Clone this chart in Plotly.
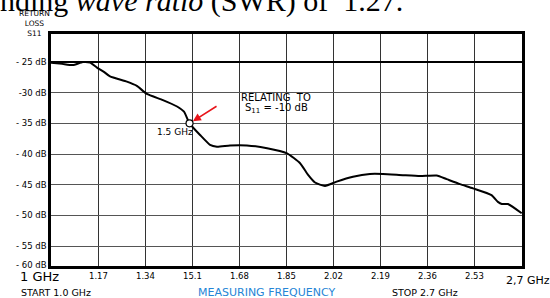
import plotly.graph_objects as go

# ---- data ----
freq_ghz = [1.0, 1.04, 1.079, 1.115, 1.141, 1.166, 1.191, 1.213, 1.274, 1.310,
            1.346, 1.404, 1.455, 1.480, 1.5, 1.538, 1.574, 1.599, 1.646, 1.707,
            1.780, 1.852, 1.899, 1.928, 1.953, 1.989, 2.031, 2.090, 2.151, 2.198,
            2.270, 2.332, 2.392, 2.428, 2.476, 2.523, 2.590, 2.613, 2.627, 2.649, 2.699]
s11_db = [-25.1, -25.3, -25.5, -25.0, -25.1, -25.9, -26.6, -27.35, -28.2, -28.9,
          -30.2, -31.2, -32.25, -33.1, -35.0, -36.9, -38.5, -38.8, -38.6, -38.6,
          -39.05, -39.9, -41.5, -43.4, -44.65, -45.2, -44.5, -43.7, -43.25, -43.25,
          -43.45, -43.6, -43.5, -44.1, -44.9, -45.6, -46.7, -47.8, -48.15, -48.15, -49.65]

marker_freq = [1.5]
marker_db = [-35.0]

x_tick_vals = [1.0, 1.17, 1.34, 1.51, 1.68, 1.85, 2.02, 2.19, 2.36, 2.53, 2.7]
x_tick_text = ["1 GHz", "1.17", "1.34", "15.1", "1.68", "1.85", "2.02", "2.19", "2.36", "2.53", "2,7 GHz"]

y_tick_vals = [-25, -30, -35, -40, -45, -50, -55]
y_tick_text = ["- 25 dB", "-30 dB", "- 35 dB", "- 40 dB", "- 45 dB", "- 50 dB", "- 55 dB"]
y_bottom_label = "- 60 dB"

# ---- layout geometry ----
W, H = 550, 298
L, R, T, B = 51, 28, 34, 32
PW, PH = W - L - R, H - T - B


def px(x):
    return (x - L) / PW


def py(y):
    return (H - B - y) / PH


FONT = "DejaVu Sans"

fig = go.Figure()
fig.add_trace(go.Scatter(x=freq_ghz, y=s11_db, mode="lines",
                         line=dict(color="black", width=2, shape="spline", smoothing=0.5),
                         hoverinfo="skip", showlegend=False))
fig.add_trace(go.Scatter(x=marker_freq, y=marker_db, mode="markers",
                         marker=dict(size=7, color="white", line=dict(color="black", width=1.2)),
                         showlegend=False))

shapes = [dict(type="line", xref="x domain", x0=0, x1=1, yref="y", y0=-25, y1=-25,
               line=dict(color="black", width=2), layer="above")]

ann = []
# x tick labels
for v, t in zip(x_tick_vals, x_tick_text):
    if t == x_tick_text[0]:
        ann.append(dict(x=v, xref="x", y=py(276), yref="paper", text=t, showarrow=False,
                        xanchor="center", yanchor="middle", xshift=-12,
                        font=dict(family=FONT, size=13, color="black")))
    elif t == x_tick_text[-1]:
        ann.append(dict(x=v, xref="x", y=py(280), yref="paper", text=t, showarrow=False,
                        xanchor="left", yanchor="middle", xshift=-18,
                        font=dict(family=FONT, size=11, color="black")))
    else:
        ann.append(dict(x=v, xref="x", y=py(276), yref="paper", text=t, showarrow=False,
                        xanchor="center", yanchor="middle",
                        font=dict(family=FONT, size=8.5, color="black")))

ann.append(dict(x=px(49), y=py(265), xref="paper", yref="paper", text=y_bottom_label,
                showarrow=False, xanchor="right", yanchor="middle",
                font=dict(family=FONT, size=8.5, color="black")))

# axis title
ann.append(dict(x=px(34), y=py(24), xref="paper", yref="paper", text="RETURN<br>LOSS<br>S11",
                showarrow=False, xanchor="center", yanchor="middle", align="center",
                font=dict(family=FONT, size=7.5, color="black")))

ann.append(dict(x=px(56), y=py(292), xref="paper", yref="paper", text="START 1.0 GHz",
                showarrow=False, xanchor="center", yanchor="middle",
                font=dict(family=FONT, size=9.5, color="black")))
ann.append(dict(x=px(266), y=py(292), xref="paper", yref="paper", text="MEASURING FREQUENCY",
                showarrow=False, xanchor="center", yanchor="middle",
                font=dict(family=FONT, size=11, color="#2585d6")))
ann.append(dict(x=px(425), y=py(292), xref="paper", yref="paper", text="STOP 2.7 GHz",
                showarrow=False, xanchor="center", yanchor="middle",
                font=dict(family=FONT, size=9.5, color="black")))

# note text
ann.append(dict(x=px(276), y=py(97), xref="paper", yref="paper", text="RELATING  TO",
                showarrow=False, xanchor="center", yanchor="middle",
                font=dict(family=FONT, size=10, color="black")))
ann.append(dict(x=px(276), y=py(108), xref="paper", yref="paper", text="S<sub>11</sub> = -10 dB",
                showarrow=False, xanchor="center", yanchor="middle",
                font=dict(family=FONT, size=10, color="black")))
ann.append(dict(x=px(175), y=py(132), xref="paper", yref="paper", text="1.5 GHz",
                showarrow=False, xanchor="center", yanchor="middle",
                font=dict(family=FONT, size=9, color="black")))
# red arrow pointing at the marker
ann.append(dict(x=marker_freq[0], y=marker_db[0], xref="x", yref="y", text=" ",
                showarrow=True, ax=30, ay=-19, arrowcolor="#e8141a", arrowwidth=1.6,
                arrowhead=2, arrowsize=1, standoff=4))

# cut-off body text at the top of the picture
ann.append(dict(x=px(-2), y=py(1), xref="paper", yref="paper",
                text="nding <i>wave ratio</i> (SWR) of  1.27.",
                showarrow=False, xanchor="left", yanchor="middle",
                font=dict(family="Liberation Serif", size=30, color="black")))

fig.update_layout(
    width=W, height=H,
    margin=dict(l=L, r=R, t=T, b=B),
    paper_bgcolor="white", plot_bgcolor="white",
    showlegend=False,
    annotations=ann,
    shapes=shapes,
    xaxis=dict(range=[1.0, 2.7], tickvals=x_tick_vals, showticklabels=False,
               showgrid=True, gridcolor="#333333", gridwidth=1.3,
               showline=True, linecolor="black", linewidth=2.5, mirror=True,
               zeroline=False, ticks=""),
    yaxis=dict(range=[-58.26, -20.43], tickvals=y_tick_vals, ticktext=y_tick_text,
               tickfont=dict(family=FONT, size=8.5, color="black"),
               showgrid=True, gridcolor="#555555", gridwidth=1.2,
               showline=True, linecolor="black", linewidth=2.5, mirror=True,
               zeroline=False, ticks=""),
)

fig.write_html("out.html", config={"displayModeBar": False},
               post_script="document.body.style.margin='0';document.body.style.overflow='hidden';")
